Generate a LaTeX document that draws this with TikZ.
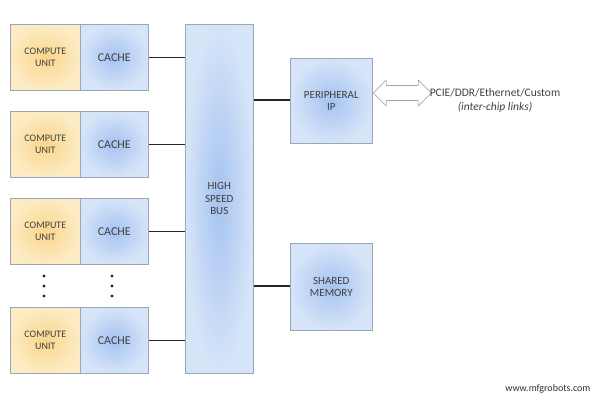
\documentclass[tikz,border=0pt]{standalone}
\usepackage{fontspec}
\setmainfont{Carlito}
\usetikzlibrary{arrows.meta,shapes.arrows}
\definecolor{bord}{HTML}{9AA7B8}
\tikzset{
  box/.style={draw=bord,line width=0.6pt,minimum width=#1,align=center,font=\fontsize{11}{12.5}\selectfont,text=black!75,inner sep=0pt},
  blu/.style={shading=radial,inner color={rgb,255:red,165;green,195;blue,240},outer color={rgb,255:red,214;green,228;blue,248}},
  yel/.style={shading=radial,inner color={rgb,255:red,250;green,214;blue,140},outer color={rgb,255:red,252;green,235;blue,195}},
  wire/.style={line width=1.5pt,black!85},
}
\begin{document}
\begin{tikzpicture}[x=1pt,y=-1pt]
\useasboundingbox (0,0) rectangle (600,400);
\foreach \i/\y in {1/24,2/111,3/198,4/307}{
  \node[box=70pt,yel,minimum height=66pt,anchor=north west,font=\fontsize{10}{12}\selectfont] (cu\i) at (10,\y) {COMPUTE\\UNIT};
  \node[box=68pt,blu,minimum height=66pt,anchor=north west,font=\fontsize{12}{13}\selectfont] (ca\i) at (80,\y) {CACHE};
}
\node[box=68pt,blu,minimum height=349pt,anchor=north west] (bus) at (185,24) {HIGH\\SPEED\\BUS};
\node[box=82pt,blu,minimum height=85pt,anchor=north west] (per) at (290,58) {PERIPHERAL\\IP};
\node[box=82pt,blu,minimum height=87pt,anchor=north west] (mem) at (290,243) {SHARED\\MEMORY};
\foreach \i in {1,...,4}{ \draw[wire] (ca\i.east) -- (ca\i.east -| bus.west); }
\coordinate (pb) at (bus.east |- 0,100);
\draw[wire] (pb) -- (pb -| per.west);
\coordinate (mb) at (bus.east |- 0,286);
\draw[wire] (mb) -- (mb -| mem.west);
\node[draw=black!55,fill=white,double arrow,double arrow head extend=5pt,double arrow head indent=0pt,minimum height=58pt,minimum width=26pt,inner sep=0pt,inner ysep=7pt,anchor=west] (arr) at (373,93) {};
\node[font=\fontsize{11.5}{14}\selectfont,text=black!75,align=center] (lbl) at (495,100) {PCIE/DDR/Ethernet/Custom\\\textit{(inter-chip links)}};
\foreach \x in {44,112}{ \foreach \yy in {276,286,296}{ \fill[black!85] (\x,\yy) circle (1.6pt); } }
\node[font=\fontsize{10}{11}\selectfont,text=black!80,anchor=east] (wm) at (594,389) {www.mfgrobots.com};
\end{tikzpicture}
\end{document}
